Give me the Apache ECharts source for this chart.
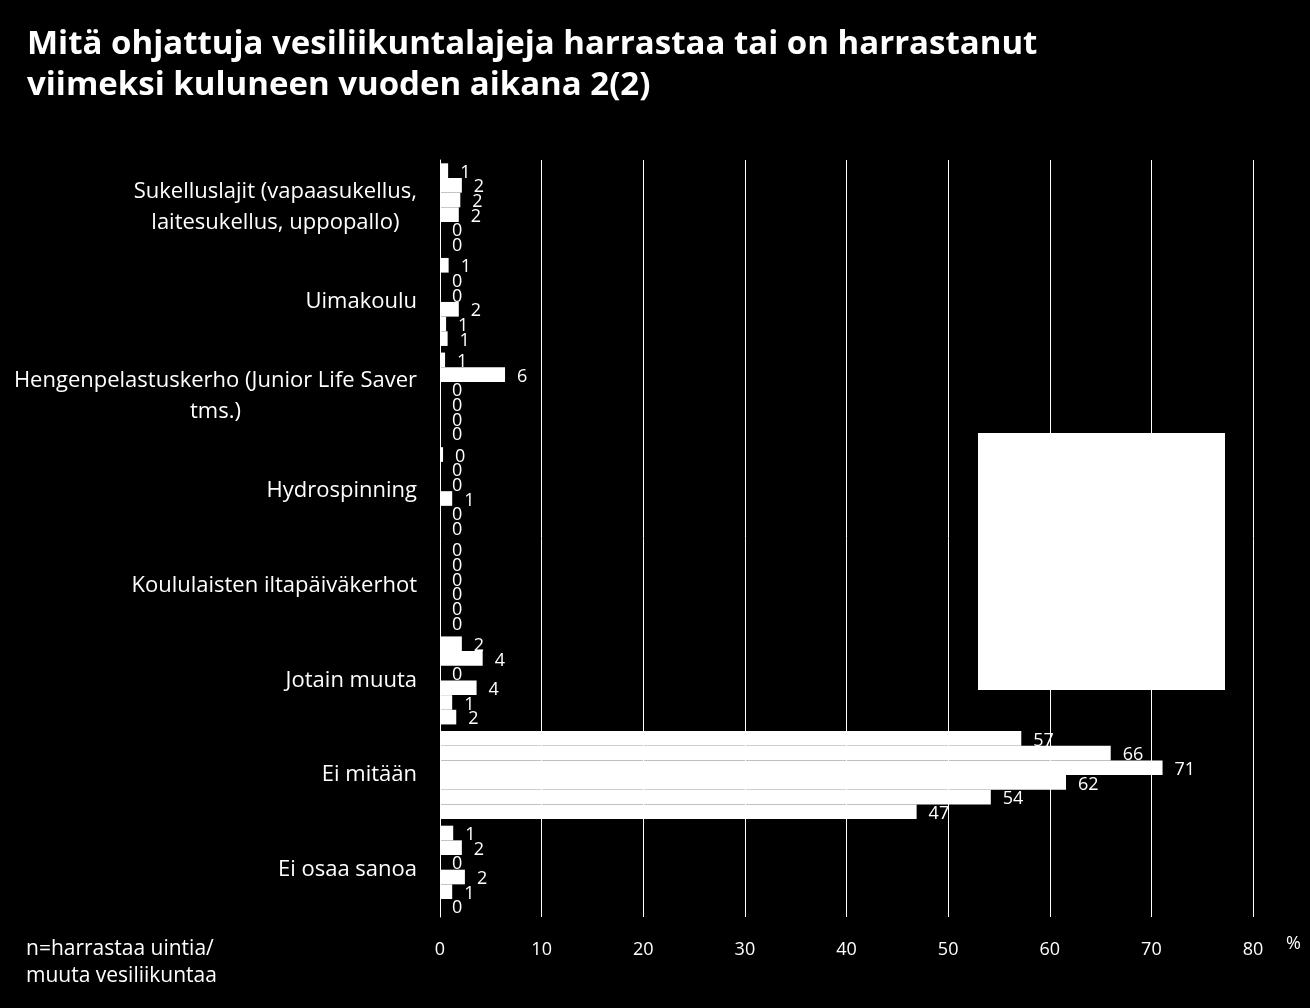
<!DOCTYPE html>
<html>
<head>
<meta charset="utf-8">
<script src="https://cdn.jsdelivr.net/npm/echarts@6/dist/echarts.min.js"></script>
<style>
  html, body { margin: 0; padding: 0; background: #000; }
  #chart { width: 1310px; height: 1008px; }
</style>
</head>
<body>
<div id="chart"></div>
<script>
const titleText = 'Mitä ohjattuja vesiliikuntalajeja harrastaa tai on harrastanut\nviimeksi kuluneen vuoden aikana 2(2)';
const footnote = 'n=harrastaa uintia/\nmuuta vesiliikuntaa';
const categories = [
  'Sukelluslajit (vapaasukellus,\nlaitesukellus, uppopallo)',
  'Uimakoulu',
  'Hengenpelastuskerho (Junior Life Saver\ntms.)',
  'Hydrospinning',
  'Koululaisten iltapäiväkerhot',
  'Jotain muuta',
  'Ei mitään',
  'Ei osaa sanoa'
];
// six groups (legend hidden in the source), values in %
const s1 = [0.8, 0.85, 0.5, 0.3, 0, 2.15, 57.2, 1.3];
const s2 = [2.15, 0, 6.4, 0, 0, 4.2, 66.0, 2.15];
const s3 = [2.0, 0, 0, 0, 0, 0, 71.1, 0];
const s4 = [1.85, 1.85, 0, 1.2, 0, 3.6, 61.6, 2.45];
const s5 = [0, 0.6, 0, 0, 0, 1.2, 54.2, 1.2];
const s6 = [0, 0.75, 0, 0, 0, 1.6, 46.9, 0];
const seriesData = [s1, s2, s3, s4, s5, s6];
const xTicks = [0, 10, 20, 30, 40, 50, 60, 70, 80];

const FONT = '"Open Sans", Lato, sans-serif';
const chart = echarts.init(document.getElementById('chart'));
chart.setOption({
  backgroundColor: '#000000',
  animation: false,
  title: {
    text: titleText,
    left: 22, top: 19,
    textStyle: { color: '#fff', fontFamily: FONT, fontWeight: 'bold', fontSize: 33, lineHeight: 41 }
  },
  graphic: [
    { type: 'text', left: 26, top: 936,
      style: { text: footnote, fill: '#fff', font: '21px ' + FONT, lineHeight: 27 } },
    { type: 'rect', shape: { x: 978, y: 433, width: 247, height: 257 }, style: { fill: '#fff' } }
  ],
  grid: { left: 440, right: 57, top: 160, bottom: 91, containLabel: false },
  xAxis: {
    type: 'value', min: 0, max: 80, interval: 10,
    axisLine: { show: false }, axisTick: { show: false },
    splitLine: { show: true, lineStyle: { color: '#fff', width: 1 } },
    axisLabel: { color: '#fff', fontFamily: FONT, fontSize: 18, margin: 24,
      formatter: v => xTicks.includes(v) ? String(v) : '' },
    name: '%', nameLocation: 'end', nameGap: 33,
    nameTextStyle: { color: '#fff', fontFamily: FONT, fontSize: 18, verticalAlign: 'top', padding: [18, 0, 0, 0] }
  },
  yAxis: {
    type: 'category', data: categories, inverse: true,
    axisLine: { show: true, lineStyle: { color: '#fff', width: 1 } },
    axisTick: { show: false },
    axisLabel: {
      color: '#fff', margin: 23,
      formatter: v => v.split('\n').map(l => '{a|' + l + '}').join('\n'),
      rich: { a: { color: '#fff', fontFamily: FONT, fontSize: 22, lineHeight: 31, align: 'center' } }
    }
  },
  series: seriesData.map((d, i) => ({
    type: 'bar', name: 'Ryhmä ' + (i + 1), data: d,
    barGap: '0%', barCategoryGap: '7%',
    itemStyle: { color: '#ffffff' },
    label: { show: true, position: 'right', distance: 12, offset: [0, 2], color: '#fff',
      fontFamily: FONT, fontSize: 18, formatter: p => String(Math.round(p.value)) }
  }))
});
</script>
</body>
</html>
